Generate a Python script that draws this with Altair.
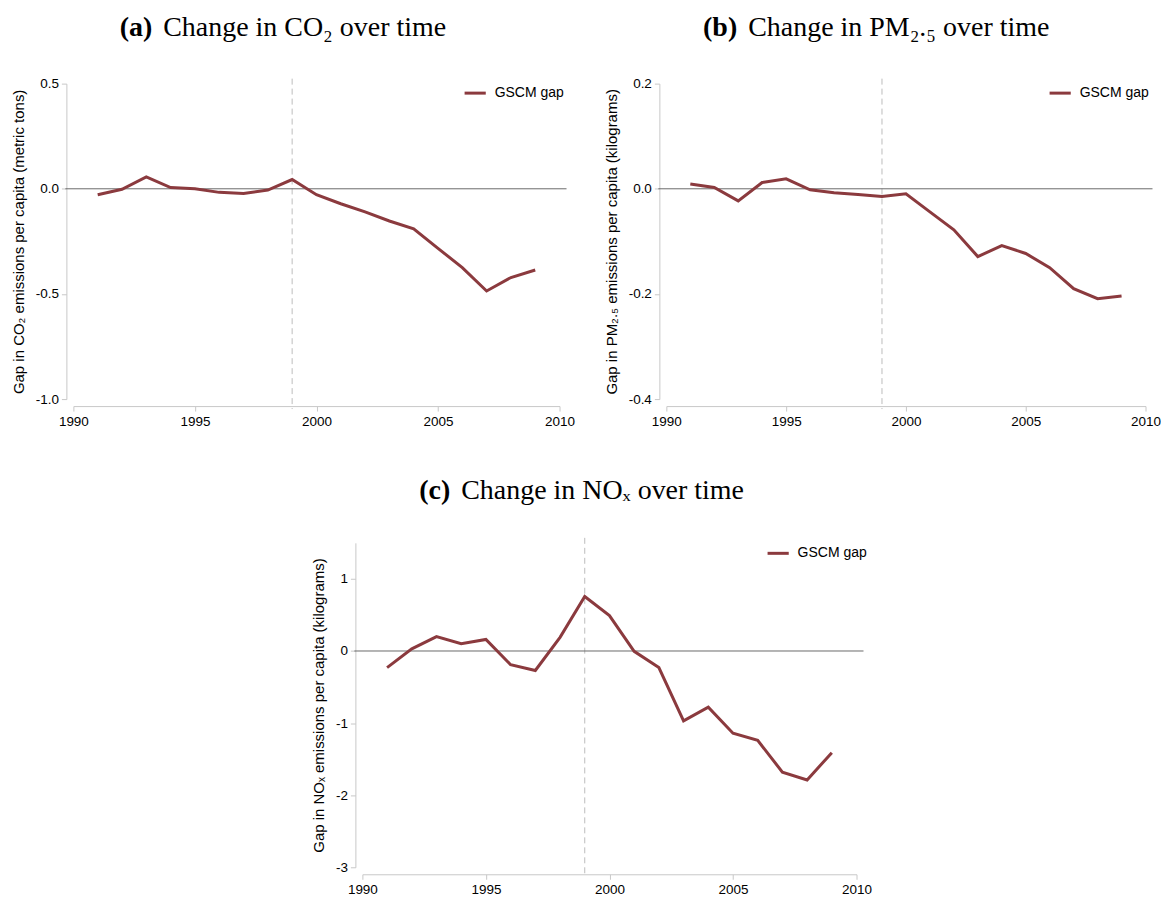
import altair as alt
import pandas as pd

years = list(range(1991, 2010))
co2_gap = [-0.028, -0.002, 0.057, 0.006, 0.0, -0.017, -0.022, -0.006, 0.044, -0.028,
           -0.071, -0.110, -0.153, -0.190, -0.283, -0.375, -0.486, -0.422, -0.386]
pm25_gap = [0.009, 0.0025, -0.023, 0.012, 0.019, -0.002, -0.0076, -0.011, -0.0146, -0.0095,
            -0.044, -0.078, -0.129, -0.108, -0.123, -0.150, -0.190, -0.209, -0.204]
nox_gap = [-0.23, 0.03, 0.20, 0.10, 0.16, -0.19, -0.27, 0.19, 0.755, 0.49,
           -0.005, -0.23, -0.97, -0.78, -1.14, -1.24, -1.68, -1.79, -1.41]

series_name = "GSCM gap"
treatment_year = [1999]
x_ticks = [1990, 1995, 2000, 2005, 2010]

labels_bold = ["(a)", "(b)", "(c)"]
labels_rest = ["Change in CO₂ over time", "Change in PM₂.₅ over time", "Change in NOₓ over time"]
y_titles = ["Gap in CO₂ emissions per capita (metric tons)",
            "Gap in PM₂.₅ emissions per capita (kilograms)",
            "Gap in NOₓ emissions per capita (kilograms)"]

MAROON = "#8b3a3e"
SANS = "Liberation Sans"
SERIF = "Liberation Serif"


def panel(values, ytitle, ydomain, yticks, fmt, w, h, lb, lr, bx, rx, ty, lgx, lgy):
    df = pd.DataFrame({"year": years, "gap": values, "series": series_name})
    xenc = alt.X("year:Q",
                 scale=alt.Scale(domain=[1990, 2010], nice=False, zero=False),
                 axis=alt.Axis(values=x_ticks, format="d", title=None, offset=7,
                               labelFlush=False))
    label_expr = ("datum.value < 0 ? '-' + format(-datum.value, '%s') : format(datum.value, '%s')"
                  % (fmt, fmt))
    yenc = alt.Y("gap:Q",
                 scale=alt.Scale(domain=ydomain, nice=False, zero=False),
                 axis=alt.Axis(values=yticks, title=ytitle, offset=7, labelExpr=label_expr,
                               titlePadding=9, labelFlush=False))
    line = alt.Chart(df).mark_line(strokeWidth=3).encode(
        x=xenc, y=yenc,
        color=alt.Color("series:N",
                        scale=alt.Scale(domain=[series_name], range=[MAROON]),
                        legend=alt.Legend(title=None, orient="none", legendX=lgx, legendY=lgy,
                                          symbolType="stroke", symbolStrokeWidth=3,
                                          symbolSize=450, labelFontSize=14, labelFont=SANS,
                                          labelOffset=7, padding=0, labelColor="black")))
    zero = alt.Chart(pd.DataFrame({"gap": [0]})).mark_rule(color="#6a6a6a", strokeWidth=1).encode(
        y=yenc, x=alt.value(-8), x2=alt.value(w + 7))
    treat = alt.Chart(pd.DataFrame({"year": treatment_year})).mark_rule(
        color="#bdbdbd", strokeWidth=1, strokeDash=[6, 4]).encode(
        x=xenc, y=alt.value(-5), y2=alt.value(h + 10))
    tb = alt.Chart(pd.DataFrame({"t": [lb]})).mark_text(
        font=SERIF, fontSize=28, fontWeight="bold", align="right", baseline="middle",
        color="black").encode(text="t:N", x=alt.value(bx), y=alt.value(ty))
    tr = alt.Chart(pd.DataFrame({"t": [lr]})).mark_text(
        font=SERIF, fontSize=28, align="left", baseline="middle",
        color="black").encode(text="t:N", x=alt.value(rx), y=alt.value(ty))
    return alt.layer(treat, zero, line, tb, tr).properties(width=w, height=h)


pa = panel(co2_gap, y_titles[0], [-1.0, 0.5], [-1.0, -0.5, 0.0, 0.5], ".1f", 487, 316,
           labels_bold[0], labels_rest[0], 79, 90, -56, 390, -3)
pb = panel(pm25_gap, y_titles[1], [-0.4, 0.2], [-0.4, -0.2, 0.0, 0.2], ".1f", 480, 316,
           labels_bold[1], labels_rest[1], 71, 82, -56, 382, -3)
pc = panel(nox_gap, y_titles[2], [-3.0, 1.5], [-3, -2, -1, 0, 1], "d", 495, 325,
           labels_bold[2], labels_rest[2], 88, 99, -52, 404, -2)

top = alt.hconcat(pa, pb, spacing=28).resolve_scale(color="independent").resolve_legend(color="independent")
chart = alt.vconcat(top, pc, spacing=49, center=True).resolve_scale(color="independent").resolve_legend(color="independent")

chart = chart.configure_view(stroke=None).configure_axis(
    grid=False, domainColor="#c8c8c8", tickColor="#c8c8c8", tickSize=5,
    labelColor="black", labelFont=SANS, labelFontSize=13.5, labelPadding=3,
    titleFont=SANS, titleFontSize=15, titleFontWeight="normal", titleColor="black"
).properties(padding={"left": 3, "top": 5, "right": 0, "bottom": 0}, background="white")

chart.save("out.html", embed_options={"renderer": "svg", "actions": False})
